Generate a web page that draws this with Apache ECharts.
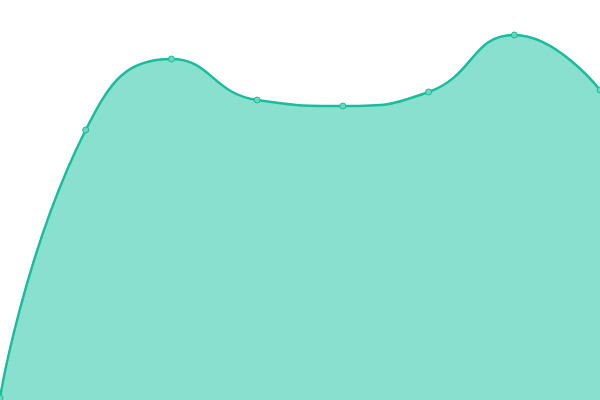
<!DOCTYPE html>
<html>
<head>
<meta charset="utf-8">
<script src="https://cdn.jsdelivr.net/npm/echarts@6/dist/echarts.min.js"></script>
<style>
    html, body { margin: 0; padding: 0; background: #fff; }
    #container { width: 600px; height: 400px; }
</style>
</head>
<body>
<div id="container"></div>
<script>
var categories = ['1', '2', '3', '4', '5', '6', '7', '8'];
var values = [2, 270, 341, 300, 294, 308, 365, 310];

var myChart = echarts.init(document.getElementById('container'));
var option = {
    animation: false,
    grid: {left: 0, right: 0, top: 0, bottom: 0},
    xAxis: {
        type: 'category',
        boundaryGap: false,
        data: categories,
        show: false
    },
    yAxis: {
        type: 'value',
        min: 0,
        max: 400,
        show: false
    },
    series: [
        {
            type: 'line',
            smooth: true,
            data: values,
            symbol: 'circle',
            symbolSize: 6,
            lineStyle: {color: '#1abc9c', width: 2.5},
            itemStyle: {color: '#6dd5bf', borderColor: '#1abc9c', borderWidth: 1},
            areaStyle: {color: '#8ae0cf', opacity: 1}
        }
    ]
};
myChart.setOption(option);
</script>
</body>
</html>
